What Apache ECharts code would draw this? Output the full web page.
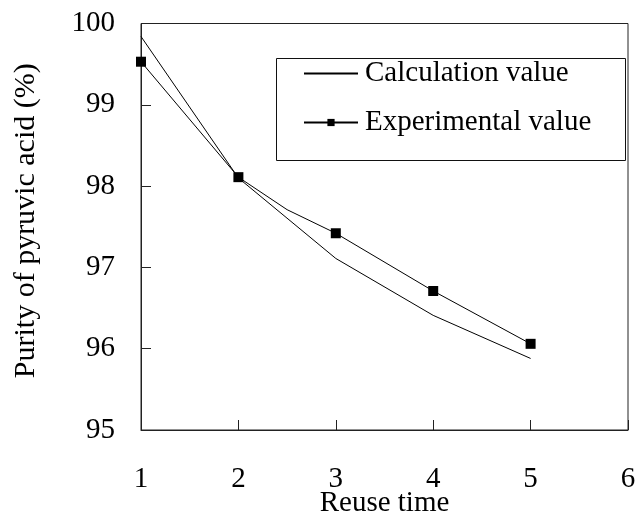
<!DOCTYPE html>
<html>
<head>
<meta charset="utf-8">
<script src="https://cdn.jsdelivr.net/npm/echarts@6/dist/echarts.min.js"></script>
<style>html,body{margin:0;padding:0;background:#fff;}#c{width:638px;height:514px;}</style>
</head>
<body>
<div id="c"></div>
<script>
// Data
const calcX = [1, 2, 3, 4, 5];
const calcY = [99.84, 98.10, 97.11, 96.41, 95.88];
const expX = [1, 2, 2.5, 3, 4, 5];
const expY = [99.53, 98.11, 97.71, 97.42, 96.71, 96.06];
const xTicks = [1, 2, 3, 4, 5, 6];
const yTicks = [95, 96, 97, 98, 99, 100];
const seriesNames = ['Calculation value', 'Experimental value'];
const xTitle = 'Reuse time';
const yTitle = 'Purity of pyruvic acid (%)';

const FONT = '"Liberation Serif", "Times New Roman", serif';
const pair = (xs, ys) => xs.map((x, i) => [x, ys[i]]);

const chart = echarts.init(document.getElementById('c'), null, {renderer: 'canvas'});
chart.setOption({
  backgroundColor: '#fff',
  animation: false,
  grid: {left: 141, top: 23.5, width: 487, height: 406.5, containLabel: false, outerBoundsMode: 'none',
         show: true, borderColor: '#222', borderWidth: 1, backgroundColor: 'transparent'},
  graphic: [{
    type: 'rect', left: 276, top: 58, shape: {width: 349, height: 102},
    style: {fill: '#fff', stroke: '#111', lineWidth: 1}, z: 5
  }],
  legend: {
    orient: 'vertical', left: 303, top: 59, z: 10, padding: 0,
    itemWidth: 54, itemHeight: 9, itemGap: 20,
    data: [
      {name: seriesNames[0], itemStyle: {opacity: 0}},
      {name: seriesNames[1]}
    ],
    textStyle: {fontFamily: FONT, fontSize: 29, color: '#000', padding: [0, 0, 0, 2]}
  },
  xAxis: {
    type: 'value', min: xTicks[0], max: xTicks[xTicks.length - 1], interval: 1,
    name: xTitle, nameLocation: 'middle', nameGap: 59, nameMoveOverlap: false,
    nameTextStyle: {fontFamily: FONT, fontSize: 29, color: '#000'},
    axisLine: {show: true, onZero: false, lineStyle: {color: '#222', width: 1}},
    axisTick: {show: true, inside: true, length: 10, lineStyle: {color: '#222'}},
    axisLabel: {fontFamily: FONT, fontSize: 29, color: '#000', margin: 35},
    splitLine: {show: false}
  },
  yAxis: {
    type: 'value', min: yTicks[0], max: yTicks[yTicks.length - 1], interval: 1,
    name: yTitle, nameLocation: 'middle', nameGap: 100, nameMoveOverlap: false,
    nameTextStyle: {fontFamily: FONT, fontSize: 30, color: '#000', padding: [0, 0, 0, 12]},
    axisLine: {show: true, onZero: false, lineStyle: {color: '#222', width: 1}},
    axisTick: {show: true, inside: true, length: 10, lineStyle: {color: '#222'}},
    axisLabel: {fontFamily: FONT, fontSize: 29, color: '#000', margin: 26},
    splitLine: {show: false}
  },
  series: [
    {
      name: seriesNames[0], type: 'line', data: pair(calcX, calcY),
      symbol: 'none', lineStyle: {color: '#000', width: 1}, itemStyle: {color: '#000'}, z: 3
    },
    {
      name: seriesNames[1], type: 'line', data: pair(expX, expY),
      symbol: 'rect', symbolSize: (v) => Number.isInteger(v[0]) ? 10 : 0,
      lineStyle: {color: '#000', width: 1}, itemStyle: {color: '#000'}, z: 4
    }
  ]
});
</script>
</body>
</html>
